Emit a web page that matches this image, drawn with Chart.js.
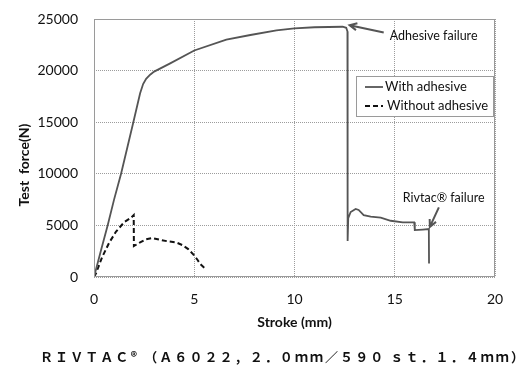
<!doctype html>
<html lang="en">
<head>
<meta charset="utf-8">
<title>Test force vs stroke</title>
<script src="https://cdn.jsdelivr.net/npm/chart.js"></script>
<style>
  html, body { margin: 0; padding: 0; background: #fff; }
</style>
</head>
<body>
<canvas id="forceChart" width="532" height="365"></canvas>
<script>
// stroke (mm) / force (N)
const strokeWith = [0, 0.35, 0.68, 1.0, 1.35, 1.68, 1.95, 2.3, 2.45, 2.6, 2.8, 3.0, 3.8, 5.0, 6.6, 7.8, 9.1, 10.0, 11.0, 12.4, 12.58, 12.64, 12.65, 12.68, 12.8, 13.05, 13.2, 13.45, 13.8, 14.3, 14.8, 15.4, 15.97, 16.0, 16.4, 16.7, 16.71];
const forceWith = [0, 2600, 5000, 7500, 10000, 12700, 14900, 17800, 18700, 19200, 19600, 19900, 20700, 21950, 23000, 23450, 23900, 24100, 24200, 24250, 24150, 23800, 3500, 5700, 6300, 6600, 6500, 6000, 5850, 5750, 5450, 5300, 5300, 4550, 4600, 4650, 1300];
const strokeWithout = [0, 0.1, 0.4, 0.75, 1.1, 1.5, 1.85, 1.98, 1.99, 2.3, 2.6, 2.9, 3.3, 3.7, 4.1, 4.4, 4.7, 4.95, 5.15, 5.3, 5.5];
const forceWithout = [0, 360, 1900, 3300, 4400, 5300, 5750, 6000, 3000, 3350, 3650, 3780, 3600, 3450, 3350, 3100, 2700, 2200, 1700, 1250, 900];
const xTicks = [0, 5, 10, 15, 20];
const yTicks = [0, 5000, 10000, 15000, 20000, 25000];
const seriesNames = ['With adhesive', 'Without adhesive'];

const toPoints = (xs, ys) => xs.map((v, i) => ({ x: v, y: ys[i] }));
const baseFont = 'Lato, "Liberation Sans", sans-serif';

function arrow(ctx, x1, y1, x2, y2) {
  // line from (x1,y1) to tip (x2,y2) with an open head
  const ang = Math.atan2(y2 - y1, x2 - x1);
  ctx.beginPath();
  ctx.moveTo(x1, y1);
  ctx.lineTo(x2, y2);
  ctx.moveTo(x2 - 8 * Math.cos(ang - 0.45), y2 - 8 * Math.sin(ang - 0.45));
  ctx.lineTo(x2, y2);
  ctx.lineTo(x2 - 8 * Math.cos(ang + 0.45), y2 - 8 * Math.sin(ang + 0.45));
  ctx.stroke();
}

const overlay = {
  id: 'overlay',
  afterDatasetsDraw(chart) {
    const { ctx, chartArea: a, scales: { x, y } } = chart;
    ctx.save();

    // plot frame
    ctx.strokeStyle = '#9a9a9a';
    ctx.lineWidth = 1;
    ctx.strokeRect(a.left + 0.5, a.top + 0.5, a.width - 1, a.height - 1);

    // annotations
    ctx.strokeStyle = '#555';
    ctx.lineWidth = 2;
    arrow(ctx, x.getPixelForValue(14.45), y.getPixelForValue(23700), x.getPixelForValue(12.75), y.getPixelForValue(24400));
    arrow(ctx, x.getPixelForValue(17.2), y.getPixelForValue(6750), x.getPixelForValue(16.75), y.getPixelForValue(4850));

    ctx.fillStyle = '#111';
    ctx.font = '12.5px ' + baseFont;
    ctx.textBaseline = 'middle';
    ctx.textAlign = 'left';
    ctx.fillText('Adhesive failure', x.getPixelForValue(14.75), y.getPixelForValue(23350));
    ctx.fillText('Rivtac® failure', x.getPixelForValue(15.4), y.getPixelForValue(7650));

    // legend box
    const bx = a.right - 139, by = a.top + 57, bw = 137, bh = 40;
    ctx.fillStyle = '#fff';
    ctx.fillRect(bx, by, bw, bh);
    ctx.strokeStyle = '#9a9a9a';
    ctx.lineWidth = 1;
    ctx.strokeRect(bx + 0.5, by + 0.5, bw, bh);
    chart.data.datasets.forEach((ds, i) => {
      const ly = by + 11 + i * 19;
      ctx.strokeStyle = ds.borderColor;
      ctx.lineWidth = ds.borderWidth;
      ctx.setLineDash(ds.borderDash || []);
      ctx.beginPath();
      ctx.moveTo(bx + 9, ly);
      ctx.lineTo(bx + 27, ly);
      ctx.stroke();
      ctx.setLineDash([]);
      ctx.fillStyle = '#111';
      ctx.font = '13px ' + baseFont;
      ctx.fillText(ds.label, bx + 29 + i * 2, ly);
    });

    // y axis title, sits a bit below centre in the original
    ctx.save();
    ctx.translate(24, (a.top + a.bottom) / 2 + 17);
    ctx.rotate(-Math.PI / 2);
    ctx.textAlign = 'center';
    ctx.font = 'bold 14px ' + baseFont;
    ctx.fillStyle = '#111';
    ctx.fillText('Test  force(N)', 0, 0);
    ctx.restore();

    // caption under the chart
    const cap = 'ＲＩＶＴＡＣ® （Ａ６０２２，２．０ｍｍ／５９０ ｓｔ．１．４ｍｍ）';
    ctx.font = 'bold 13px "Noto Sans CJK JP", sans-serif';
    ctx.fillStyle = '#111';
    ctx.textAlign = 'left';
    const w = ctx.measureText(cap).width;
    const target = 484;
    ctx.letterSpacing = ((target - w) / (cap.length - 1)).toFixed(2) + 'px';
    ctx.fillText(cap, 40, 357);
    ctx.letterSpacing = '0px';
    ctx.restore();
  }
};

new Chart(document.getElementById('forceChart'), {
  type: 'scatter',
  data: {
    datasets: [
      {
        label: seriesNames[0],
        data: toPoints(strokeWith, forceWith),
        showLine: true,
        borderColor: '#555',
        borderWidth: 1.8,
        pointRadius: 0,
        tension: 0
      },
      {
        label: seriesNames[1],
        data: toPoints(strokeWithout, forceWithout),
        showLine: true,
        borderColor: '#111',
        borderWidth: 2,
        borderDash: [5, 3],
        pointRadius: 0,
        tension: 0
      }
    ]
  },
  options: {
    responsive: false,
    animation: false,
    layout: { padding: { top: 19, right: 37, bottom: 0, left: 0 } },
    plugins: { legend: { display: false }, tooltip: { enabled: false } },
    scales: {
      x: {
        type: 'linear',
        min: 0,
        max: 20,
        afterBuildTicks: s => { s.ticks = xTicks.map(v => ({ value: v })); },
        afterFit: s => { s.height = 88; },
        grid: { color: '#9c9c9c', drawTicks: false },
        border: { display: false, dash: [1, 1] },
        ticks: { padding: 14, color: '#111', maxRotation: 0, font: { family: baseFont, size: 14 } },
        title: {
          display: true,
          text: 'Stroke (mm)',
          color: '#111',
          font: { family: baseFont, size: 14, weight: 'bold' },
          padding: { top: 0, bottom: 34 }
        }
      },
      y: {
        min: 0,
        max: 25000,
        afterBuildTicks: s => { s.ticks = yTicks.map(v => ({ value: v })); },
        afterFit: s => { s.width = 94; s.paddingTop = 0; s.paddingBottom = 0; },
        grid: { color: '#9c9c9c', drawTicks: false },
        border: { display: false, dash: [1, 1] },
        ticks: { padding: 16, color: '#111', font: { family: baseFont, size: 14 }, callback: v => String(v) }
      }
    }
  },
  plugins: [overlay]
});
</script>
</body>
</html>
